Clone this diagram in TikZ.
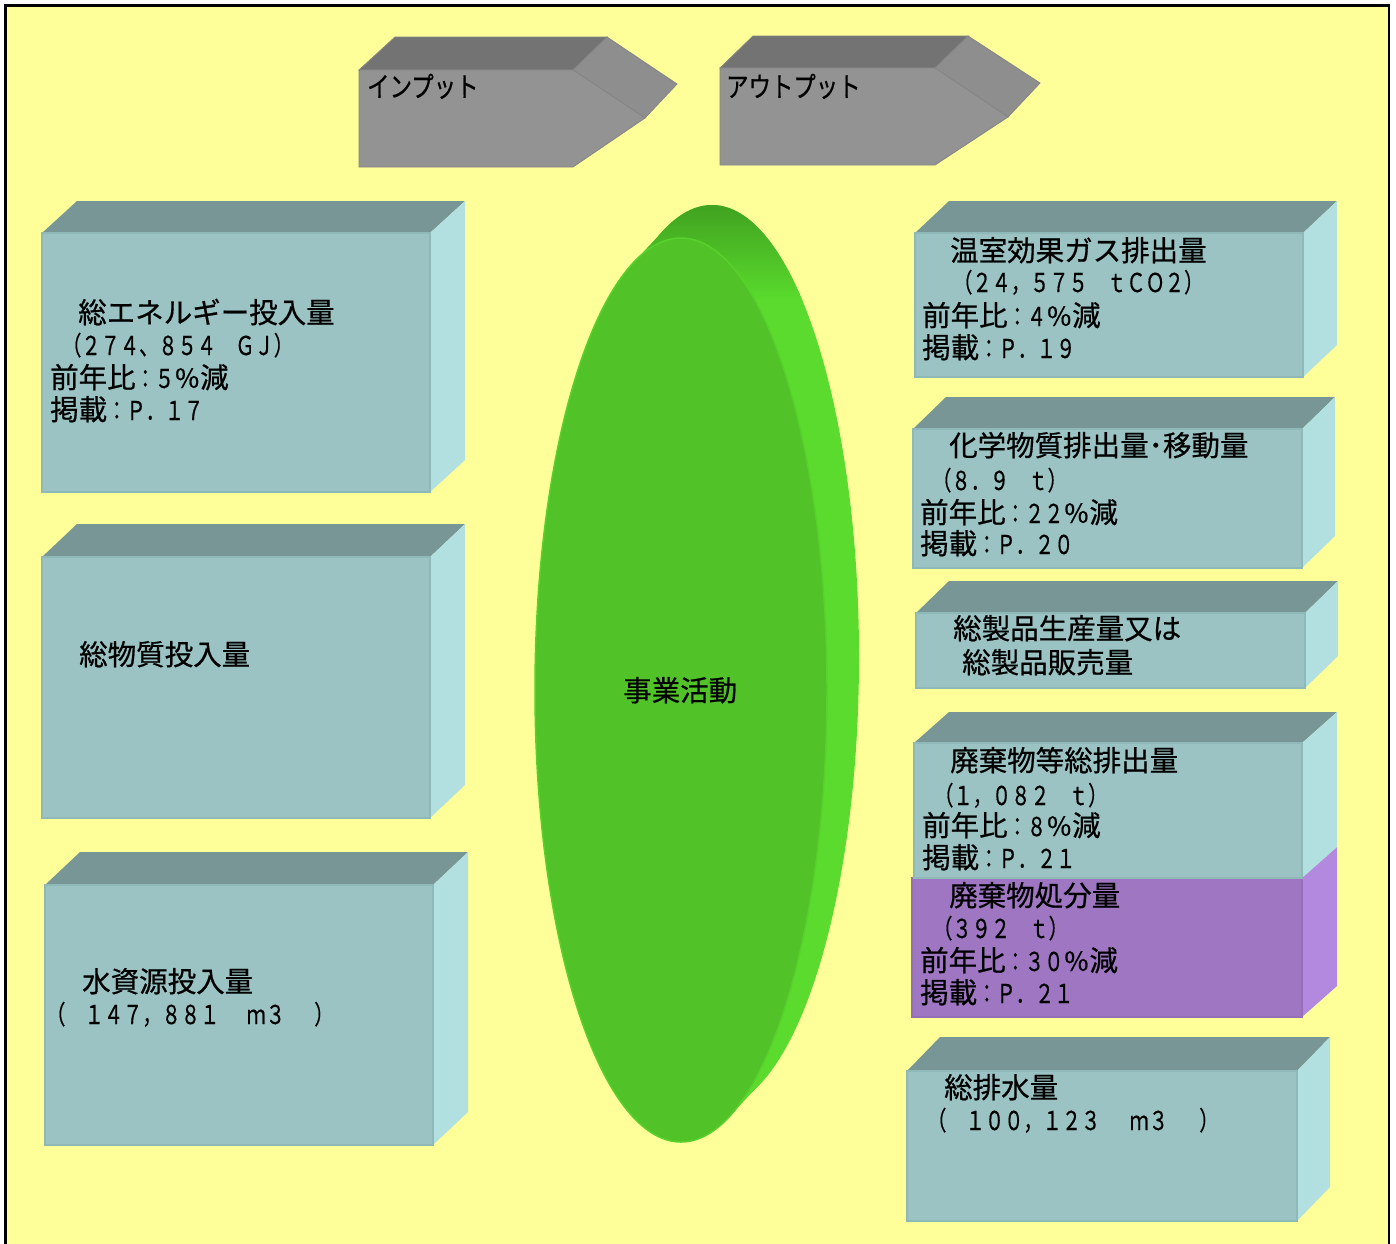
\documentclass[tikz,border=0pt]{standalone}
\usepackage{fontspec}
\newfontfamily\cjk[FakeBold=0.6]{Noto Sans CJK JP}
\newfontfamily\cjkc[FakeStretch=0.74,FakeBold=0.5]{Noto Sans CJK JP}
\newfontfamily\cjka[FakeStretch=0.8,FakeBold=0.5]{Noto Sans CJK JP}
\definecolor{bgc}{HTML}{FFFF99}
\definecolor{tealfront}{HTML}{9BC3C3}
\definecolor{tealtop}{HTML}{789696}
\definecolor{tealside}{HTML}{B2E0E0}
\definecolor{tealedge}{HTML}{8FB9B9}
\definecolor{purfront}{HTML}{9E76C2}
\definecolor{purtop}{HTML}{7E5E9C}
\definecolor{purside}{HTML}{B388DF}
\definecolor{puredge}{HTML}{9470B8}
\definecolor{grfront}{HTML}{939393}
\definecolor{grtop}{HTML}{737373}
\definecolor{grside}{HTML}{8E8E8E}
\definecolor{gredge}{HTML}{858585}
\definecolor{discfront}{HTML}{51C328}
\definecolor{discedge}{HTML}{58D12D}
\definecolor{rimc}{HTML}{5ADB2D}
\definecolor{rimdark}{HTML}{3F9F1F}
\tikzset{
  lbl/.style={anchor=base west, inner sep=0pt, text=black, font={\cjk\fontsize{28.5}{33}\selectfont}},
  ttop/.style={fill=tealtop},
  tside/.style={fill=tealside},
  tfront/.style={fill=tealfront, draw=tealedge, line width=1.2pt},
  ptop/.style={fill=purtop},
  pside/.style={fill=purside},
  pfront/.style={fill=purfront, draw=puredge, line width=1.2pt},
  gtop/.style={fill=grtop, draw=gredge, line width=0.8pt},
  gside/.style={fill=grside, draw=gredge, line width=0.8pt},
  gfront/.style={fill=grfront, draw=gredge, line width=0.8pt},
}
\newcommand\nm[1]{{\cjkc\fontsize{26}{30}\selectfont #1}}
\newcommand\pc{{\cjk\fontsize{26}{30}\selectfont ％}}
\newcommand\arlbl[1]{{\cjka\fontsize{28}{30}\selectfont #1}}
% x1 y1 x2 y2 dx dy topstyle sidestyle frontstyle
\newcommand\cuboid[9]{%
  \path[#7] (#1,#2) -- (#1+#5,#2-#6) -- (#3+#5,#2-#6) -- (#3,#2) -- cycle;
  \path[#8] (#3,#2) -- (#3+#5,#2-#6) -- (#3+#5,#4-#6) -- (#3,#4) -- cycle;
  \path[#9] (#1,#2) rectangle (#3,#4);
}
\begin{document}
\begin{tikzpicture}[x=1pt,y=-1pt]
\useasboundingbox (0,0) rectangle (1396,1243);
\fill[white] (0,0) rectangle (1396,1243);
\fill[bgc] (5.3,5.3) rectangle (1389,1260);
\draw[black, line width=2.8pt] (5.3,1260) -- (5.3,5.3) -- (1389,5.3) -- (1389,1260);

% arrows
\path[gtop] (359,70) -- (395,37) -- (607,37) -- (573,70) -- cycle;
\path[gside] (573,70) -- (607,37) -- (677,84) -- (645,118) -- cycle;
\path[gfront] (359,70) -- (573,70) -- (645,118) -- (573,167) -- (359,167) -- cycle;
\path[gtop] (720,68) -- (753,36) -- (968,36) -- (935,68) -- cycle;
\path[gside] (935,68) -- (968,36) -- (1040,83) -- (1008,117) -- cycle;
\path[gfront] (720,68) -- (935,68) -- (1008,117) -- (935,165) -- (720,165) -- cycle;
\node[lbl] (in) at (367,97) {\arlbl{インプット}};
\node[lbl] (out) at (726,97) {\arlbl{アウトプット}};

% left boxes
\cuboid{42}{233}{430}{492}{35}{32}{ttop}{tside}{tfront}
\cuboid{42}{557}{430}{818}{35}{33}{ttop}{tside}{tfront}
\cuboid{45}{885}{433}{1145}{35}{33}{ttop}{tside}{tfront}

% right boxes
\cuboid{915}{233}{1303}{377}{34}{32}{ttop}{tside}{tfront}
\cuboid{913}{429}{1302}{568}{33}{32}{ttop}{tside}{tfront}
\cuboid{916}{613}{1305}{688}{33}{32}{ttop}{tside}{tfront}
\cuboid{912}{878}{1302}{1017}{35}{31}{ptop}{pside}{pfront}
\cuboid{914}{743}{1302}{878}{35}{31}{ttop}{tside}{tfront}
\cuboid{907}{1071}{1297}{1221}{33}{34}{ttop}{tside}{tfront}

% disc
\fill[rimc] (712,657) ellipse [x radius=147pt, y radius=452pt];
\fill[rimc] (632.1,264.1) -- (663.1,231.1) -- (760.9,1082.9) -- (729.9,1115.9) -- cycle;
\begin{scope}
  \clip (712,657) ellipse [x radius=147pt, y radius=452pt];
  \shade[top color=rimdark, bottom color=rimc] (560,200) rectangle (880,300);
\end{scope}
\begin{scope}
  \clip (632.1,264.1) -- (663.1,231.1) -- (760.9,1082.9) -- (729.9,1115.9) -- cycle;
  \shade[top color=rimdark, bottom color=rimc] (560,200) rectangle (880,300);
\end{scope}
\path[fill=discfront, draw=discedge, line width=1.5pt] (681,690) ellipse [x radius=146pt, y radius=452pt];
\node[lbl] (biz) at (623,701) {事業活動};

% left texts
\node[lbl] (e1) at (78,323) {総エネルギー投入量};
\node[lbl] (e2) at (62,355) {\nm{（２７４、８５４　ＧＪ）}};
\node[lbl] (e3) at (50,388) {前年比\nm{：５}\pc 減};
\node[lbl] (e4) at (50,420) {掲載\nm{：Ｐ．１７}};
\node[lbl] (m1) at (79,665) {総物質投入量};
\node[lbl] (w1) at (82,992) {水資源投入量};
\node[lbl] (w2) at (46,1024) {\nm{（　１４７，８８１　\hspace{8pt}ｍ３　\hspace{10pt}）}};

% right texts
\node[lbl] (g1) at (950,261) {温室効果ガス排出量};
\node[lbl] (g2) at (953,292) {\nm{（２４，５７５　ｔＣＯ２）}};
\node[lbl] (g3) at (922,326) {前年比\nm{：４}\pc 減};
\node[lbl] (g4) at (922,358) {掲載\nm{：Ｐ．１９}};
\node[lbl] (c1) at (949,456) {化学物質排出量･移動量};
\node[lbl] (c2) at (932,490) {\nm{（８．９　ｔ）}};
\node[lbl] (c3) at (920,523) {前年比\nm{：２２}\pc 減};
\node[lbl] (c4) at (920,554) {掲載\nm{：Ｐ．２０}};
\node[lbl] (p1) at (953,639) {総製品生産量又は};
\node[lbl] (p2) at (962,673) {総製品販売量};
\node[lbl] (h1) at (950,771) {廃棄物等総排出量};
\node[lbl] (h2) at (934,805) {\nm{（１，０８２　ｔ）}};
\node[lbl] (h3) at (922,836) {前年比\nm{：８}\pc 減};
\node[lbl] (h4) at (922,868) {掲載\nm{：Ｐ．２１}};
\node[lbl] (d1) at (949,906) {廃棄物処分量};
\node[lbl] (d2) at (933,938) {\nm{（３９２　ｔ）}};
\node[lbl] (d3) at (920,971) {前年比\nm{：３０}\pc 減};
\node[lbl] (d4) at (920,1003) {掲載\nm{：Ｐ．２１}};
\node[lbl] (x1) at (944,1098) {総排水量};
\node[lbl] (x2) at (927,1130) {\nm{（　１００，１２３　\hspace{10pt}ｍ３　\hspace{12pt}）}};
\end{tikzpicture}
\end{document}
